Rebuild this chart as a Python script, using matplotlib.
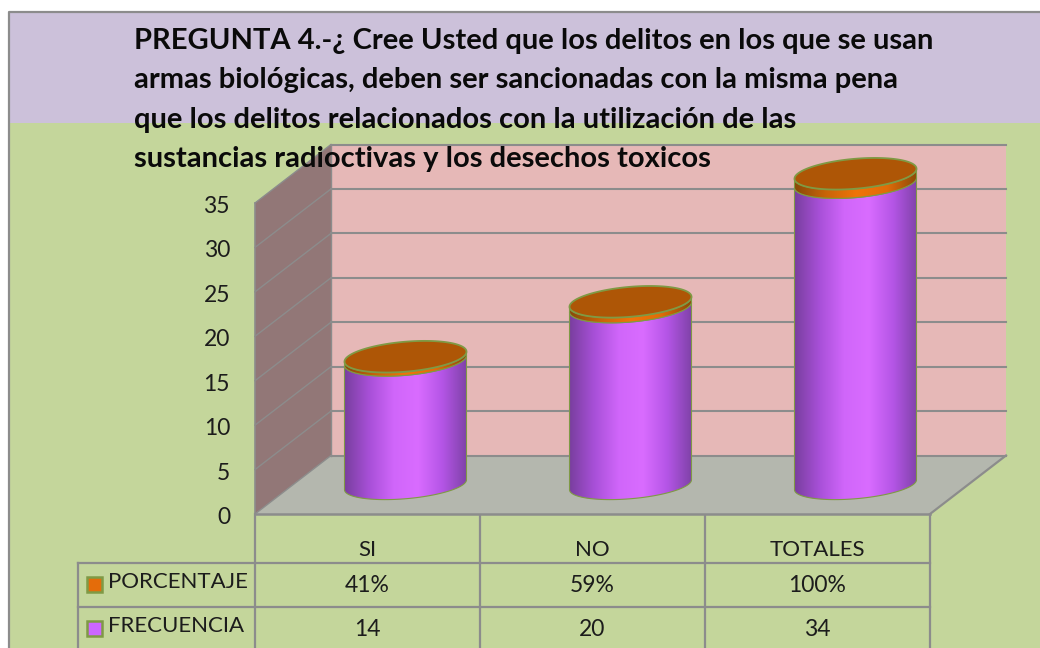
import matplotlib
matplotlib.use("Agg")
import matplotlib.pyplot as plt
import numpy as np
from matplotlib.colors import LinearSegmentedColormap
from matplotlib.patches import Polygon, Rectangle
from matplotlib.transforms import ScaledTranslation

plt.rcParams["font.family"] = ["Lato", "DejaVu Sans"]

categories = ["SI", "NO", "TOTALES"]
frecuencia = [14, 20, 34]
porcentaje = [0.41, 0.59, 1.00]
porcentaje_labels = ["41%", "59%", "100%"]
y_ticks = [0, 5, 10, 15, 20, 25, 30, 35]
title_lines = [
    "PREGUNTA 4.-¿ Cree Usted que los delitos en los que se usan",
    "armas biológicas, deben ser sancionadas con la misma pena",
    "que los delitos relacionados con la utilización de las",
    "sustancias radioctivas y los desechos toxicos",
]

W, H = 1040, 648
GREY = "#8c8c8c"
TEXT = "#1c1c1c"

fig = plt.figure(figsize=(W / 100, H / 100), dpi=100, facecolor="white")

# background panel in pixel coordinates
bg = fig.add_axes([0, 0, 1, 1], zorder=0)
bg.set_xlim(0, W)
bg.set_ylim(H, 0)
bg.axis("off")
bg.add_patch(Rectangle((9, 12), 1040, 700, fc="#c4d69b", ec="none"))
bg.add_patch(Rectangle((9, 12), 1040, 111, fc="#ccc1da", ec="none"))
bg.plot([9, 9, W], [H, 12, 12], color=GREY, lw=1.6)

# chart axes sits on the front plane of the 3d box
left, right, y0, y35 = 255, 930, 514, 203
ax = fig.add_axes([left / W, 1 - y0 / H, (right - left) / W, (y0 - y35) / H], zorder=1)
ax.patch.set_alpha(0)
ax.set_xlim(0, 3)
ax.set_ylim(0, 35)
for s in ax.spines.values():
    s.set_visible(False)

ppx = 3 / (right - left)
ppy = 35 / (y0 - y35)
dx, dy = 76 * ppx, 58.5 * ppy

# walls and floor
ax.add_patch(Polygon([(0, 0), (dx, dy), (dx, 35 + dy), (0, 35)], fc="#927777", ec="none", clip_on=False))
ax.add_patch(Rectangle((dx, dy), 3, 35, fc="#e6b8b7", ec="none", clip_on=False))
ax.add_patch(Polygon([(0, 0), (3, 0), (3 + dx, dy), (dx, dy)], fc="#b4b7ae", ec="none", clip_on=False))
for t in y_ticks:
    ax.plot([0, dx], [t, t + dy], color=GREY, lw=1.0, clip_on=False, zorder=2)
    ax.plot([dx, 3 + dx], [t + dy, t + dy], color=GREY, lw=1.5, clip_on=False, zorder=2)
ax.plot([0, 3], [0, 0], color=GREY, lw=1.8, clip_on=False, zorder=2)
ax.plot([0, 0], [0, 35], color=GREY, lw=1.2, clip_on=False, zorder=2)
ax.plot([dx, dx], [dy, 35 + dy], color=GREY, lw=1.0, clip_on=False, zorder=2)
ax.plot([3, 3 + dx], [0, dy], color=GREY, lw=1.6, clip_on=False, zorder=2)

purple = LinearSegmentedColormap.from_list("p", ["#7a3fa0", "#a850d8", "#d066fa", "#d96cff", "#b455e6", "#7f42a8"])
orange = LinearSegmentedColormap.from_list("o", ["#8a4a08", "#c86408", "#f07408", "#e06c08", "#8a4a08"])

half_w = 61 * ppx
semi_h = 15.0 * ppy
base_semi = 14.0 * ppy
tilt = 5.0 * ppy
edge = "#7f9a45"
t_par = np.linspace(0, 2 * np.pi, 120)


def ring(cx, cy):
    return (cx + half_w * np.cos(t_par), cy + semi_h * np.sin(t_par) + tilt * np.cos(t_par))


def cylinder(cx, base, top, cmap, z, low_semi):
    # body outline: lower half of both ellipses
    a = np.linspace(np.pi, 2 * np.pi, 60)
    xb = cx + half_w * np.cos(a)
    off_low = low_semi * np.sin(a) + tilt * np.cos(a)
    off_top = semi_h * np.sin(a) + tilt * np.cos(a)
    xs = np.r_[xb, xb[::-1]]
    ys = np.r_[base + off_low, (top + off_top)[::-1]]
    body = Polygon(np.c_[xs, ys], fc="none", ec=edge, lw=0.8, clip_on=False, zorder=z + 0.1)
    ax.add_patch(body)
    grad = np.linspace(0, 1, 256).reshape(1, -1)
    im = ax.imshow(grad, cmap=cmap, extent=(cx - half_w, cx + half_w, base - semi_h - tilt, top + semi_h + tilt),
                   aspect="auto", zorder=z)
    im.set_clip_box(fig.bbox)
    im.set_clip_path(body)


for i, (f, p) in enumerate(zip(frecuencia, porcentaje)):
    cx = i + 0.5 + dx / 2
    base = dy / 2
    cylinder(cx, base, base + f, purple, 3 + i, base_semi)
    cylinder(cx, base + f, base + f + p, orange, 3.3 + i, semi_h)
    xr, yr = ring(cx, base + f + p)
    ax.add_patch(Polygon(np.c_[xr, yr], fc="#ae5606", ec=edge, lw=1.3, clip_on=False, zorder=3.6 + i))
ax.set_xlim(0, 3)
ax.set_ylim(0, 35)

ax.set_yticks(y_ticks)
ax.set_yticklabels([str(t) for t in y_ticks], fontsize=16.5, color=TEXT)
ax.tick_params(axis="y", length=0, pad=18)
ax.set_xticks([0.5, 1.5, 2.5])
ax.set_xticklabels(categories, fontsize=16, color=TEXT)
ax.tick_params(axis="x", length=0, pad=18.5)
shift = ScaledTranslation(0, -1.5 / 100, fig.dpi_scale_trans)
for lbl in ax.get_yticklabels():
    lbl.set_transform(lbl.get_transform() + shift)

# data table below the axis
col_x = [255, 480, 705, 930]
rows_y = [563, 607]
lc = dict(color=GREY, lw=1.6)
bg.plot([78, 930], [rows_y[0], rows_y[0]], **lc)
bg.plot([78, 930], [rows_y[1], rows_y[1]], **lc)
bg.plot([78, 78], [rows_y[0], H], **lc)
for x in col_x:
    bg.plot([x, x], [y0, H], **lc)

row_names = ["PORCENTAJE", "FRECUENCIA"]
row_colors = ["#e46c0a", "#cc66ff"]
row_values = [porcentaje_labels, [str(v) for v in frecuencia]]
row_text_y = [584, 628]
for name, c, vals, ty in zip(row_names, row_colors, row_values, row_text_y):
    bg.add_patch(Rectangle((87, ty - 7.5), 15, 15, fc=c, ec="#7f9a45", lw=1.8))
    bg.text(108, ty - 2, name, fontsize=16, color=TEXT, va="center", ha="left")
    for j, v in enumerate(vals):
        bg.text((col_x[j] + col_x[j + 1]) / 2, ty + 2, v, fontsize=16.5, color=TEXT, va="center", ha="center")

# title goes over everything
top = fig.add_axes([0, 0, 1, 1], zorder=5)
top.set_xlim(0, W)
top.set_ylim(H, 0)
top.axis("off")
for i, line in enumerate(title_lines):
    top.text(134, 41 + i * 39.3, line, fontsize=21, fontweight="bold", color="#0a0a0a", va="center", ha="left")

fig.savefig("out.png", dpi=100)
